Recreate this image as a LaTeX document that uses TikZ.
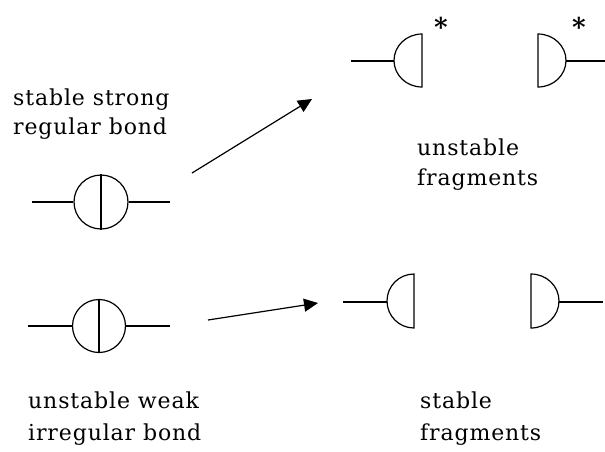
\documentclass[tikz,border=0pt]{standalone}
\usepackage{fontspec}
\setmainfont{DejaVu Serif}
\newfontfamily\spaced[LetterSpace=4]{DejaVu Serif}
\usetikzlibrary{arrows.meta}
\begin{document}
\begin{tikzpicture}[x=1pt,y=-1pt,
  lw/.style={line width=1.2pt},
  ring/.style={lw,draw,circle,inner sep=0pt,minimum size=#1},
  lbl/.style={anchor=base west,inner sep=0pt,font=\spaced\fontsize{22}{24}\selectfont},
  star/.style={inner sep=0pt,font=\bfseries\fontsize{26}{26}\selectfont},
  arr/.style={lw,-{Triangle[length=14pt,width=13pt]}}]
\useasboundingbox (0,0) rectangle (605,451);
% top bond
\node[ring=54pt] (c1) at (101,202) {};
\coordinate (c1l) at (32,202);
\coordinate (c1r) at (170,202);
\draw[lw] (c1l) -- (c1.west);
\draw[lw] (c1.east) -- (c1r);
\draw[lw] (c1.north) -- (c1.south);
% bottom bond
\node[ring=53pt] (c2) at (99,326) {};
\coordinate (c2l) at (28,326);
\coordinate (c2r) at (170,326);
\draw[lw] (c2l) -- (c2.west);
\draw[lw] (c2.east) -- (c2r);
\draw[lw] (c2.north) -- (c2.south);
% top fragments
\coordinate (f1t) at (422,34);
\coordinate (f1l) at (351,61);
\draw[lw] (f1t) arc[start angle=-90,end angle=-270,x radius=28,y radius=26.5] -- cycle;
\draw[lw] (f1l) -- (394,61);
\coordinate (f2t) at (538,34);
\coordinate (f2r) at (605,61);
\draw[lw] (f2t) arc[start angle=-90,end angle=90,x radius=28,y radius=26.5] -- cycle;
\draw[lw] (566,61) -- (f2r);
\node[star] (s1) at (441,27) {*};
\node[star] (s2) at (579,27) {*};
% bottom fragments
\coordinate (f3t) at (414,274);
\coordinate (f3l) at (343,302);
\draw[lw] (f3t) arc[start angle=-90,end angle=-270,x radius=27,y radius=27] -- cycle;
\draw[lw] (f3l) -- (387,302);
\coordinate (f4t) at (531,274);
\coordinate (f4r) at (603,302);
\draw[lw] (f4t) arc[start angle=-90,end angle=90,x radius=28,y radius=27] -- cycle;
\draw[lw] (559,302) -- (f4r);
% arrows
\coordinate (a1s) at (192,173);
\coordinate (a1e) at (312,99);
\draw[arr] (a1s) -- (a1e);
\coordinate (a2s) at (208,320);
\coordinate (a2e) at (318,303);
\draw[arr] (a2s) -- (a2e);
% labels
\node[lbl] (t1) at (13,105) {stable strong};
\node[lbl] (t2) at (13,134) {regular bond};
\node[lbl] (t3) at (417,155) {unstable};
\node[lbl] (t4) at (417,185) {fragments};
\node[lbl] (t5) at (28,408) {unstable weak};
\node[lbl] (t6) at (28,440) {irregular bond};
\node[lbl] (t7) at (420,408) {stable};
\node[lbl] (t8) at (420,440) {fragments};
\end{tikzpicture}
\end{document}
